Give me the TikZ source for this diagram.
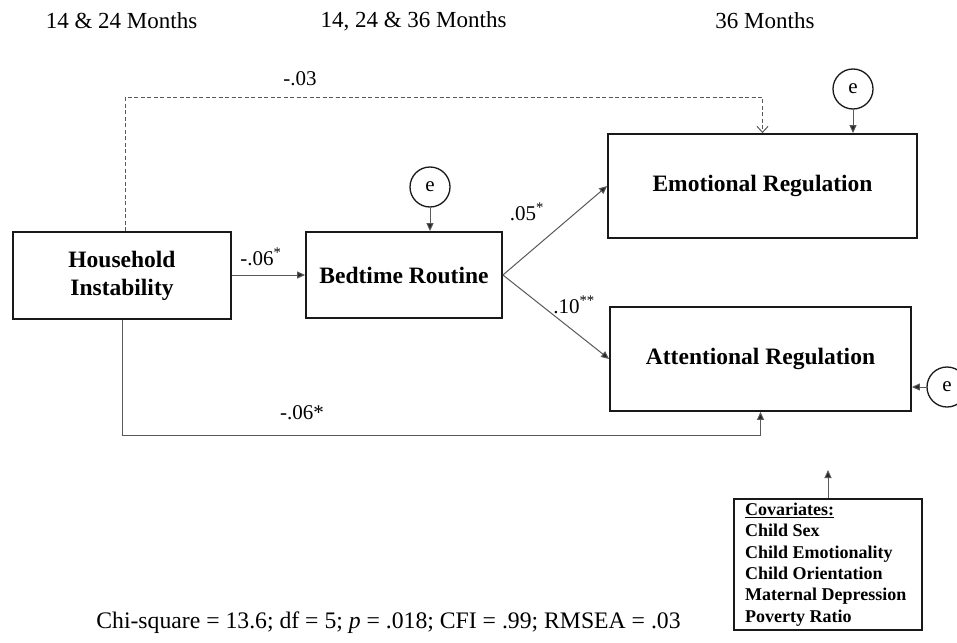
\documentclass[tikz,border=0pt]{standalone}
\usepackage{fontspec}
\setmainfont{Liberation Serif}
\usetikzlibrary{arrows.meta,positioning}
\begin{document}
\begin{tikzpicture}[x=1pt,y=-1pt,
  box/.style={draw=black!90, line width=1.8pt, rectangle, inner sep=0pt, align=center,
    font=\fontsize{23.5}{28}\selectfont\bfseries},
  err/.style={draw=black!90, line width=1.3pt, circle, minimum size=40pt, inner sep=0pt,
    font=\fontsize{21}{24}\selectfont},
  conn/.style={draw=black!65, line width=1pt, -{Triangle[length=8pt,width=7pt,fill=black!85]}},
  dconn/.style={draw=black!65, line width=1pt, dashed, dash pattern=on 4pt off 2.5pt, -{Straight Barb[length=6pt,width=11pt]}},
  lab/.style={font=\fontsize{21}{24}\selectfont, inner sep=0pt},
  head/.style={font=\fontsize{23}{26}\selectfont, inner sep=0pt}
]
\useasboundingbox (0,0) rectangle (957,642);
\fill[white] (0,0) rectangle (957,642);

% headers
\node[head] (h1) at (121.5,21) {14 \& 24 Months};
\node[head] (h2) at (413.5,21) {14, 24 \& 36 Months};
\node[head] (h3) at (765,21) {36 Months};

% boxes
\node[box, minimum width=218pt, minimum height=87pt] (house) at (122,275.5) {Household\\Instability};
\node[box, minimum width=196pt, minimum height=86pt] (bed) at (404,275) {Bedtime Routine};
\node[box, minimum width=309pt, minimum height=104pt] (emo) at (762.5,186) {Emotional Regulation};
\node[box, minimum width=301pt, minimum height=104pt] (att) at (760.5,359) {Attentional Regulation};

% error terms
\node[err] (e1) at (430,187) {e};
\node[err] (e2) at (853,89) {e};
\node[err] (e3) at (947,387) {e};

\draw[conn] (e1) -- (e1 |- bed.north);
\draw[conn] (e2) -- (e2 |- emo.north);
\draw[conn] (e3) -- (e3 -| att.east);

% paths
\draw[conn] (house.east |- bed.west) -- (bed.west);
\draw[conn] (bed.east) -- (emo.west);
\draw[conn] (bed.east) -- (att.west);
\draw[dconn] ([xshift=3pt]house.north) -- ++(0,-134) -| (emo.north);
\draw[conn] (house.south) -- ++(0,116) -| (att.south);

% labels
\node[lab] (l1) at (300,79) {-.03};
\node[lab] (l2) at (261,257) {-.06\textsuperscript{*}};
\node[lab] (l3) at (527,212) {.05\textsuperscript{*}};
\node[lab] (l4) at (574,305) {.10\textsuperscript{**}};
\node[lab] (l5) at (302,413) {-.06*};

% covariates
\node[draw=black!90, line width=1.8pt, rectangle, minimum width=188pt, minimum height=131pt, inner sep=0pt] (cov) at (828,564.5) {};
\node[anchor=north west, inner sep=0pt, align=left, font=\fontsize{18}{21.3}\selectfont\bfseries] (covtext) at (745,503)
  {\underline{Covariates:}\\Child Sex\\Child Emotionality\\Child Orientation\\Maternal Depression\\Poverty Ratio};
\coordinate (covtip) at (828,470);
\draw[conn] (cov.north) -- (covtip);

% fit statistics
\node[head, font=\fontsize{23.7}{26}\selectfont] (fit) at (388.5,623) {Chi-square = 13.6; df = 5; \textit{p} = .018; CFI = .99; RMSEA = .03};
\end{tikzpicture}
\end{document}
